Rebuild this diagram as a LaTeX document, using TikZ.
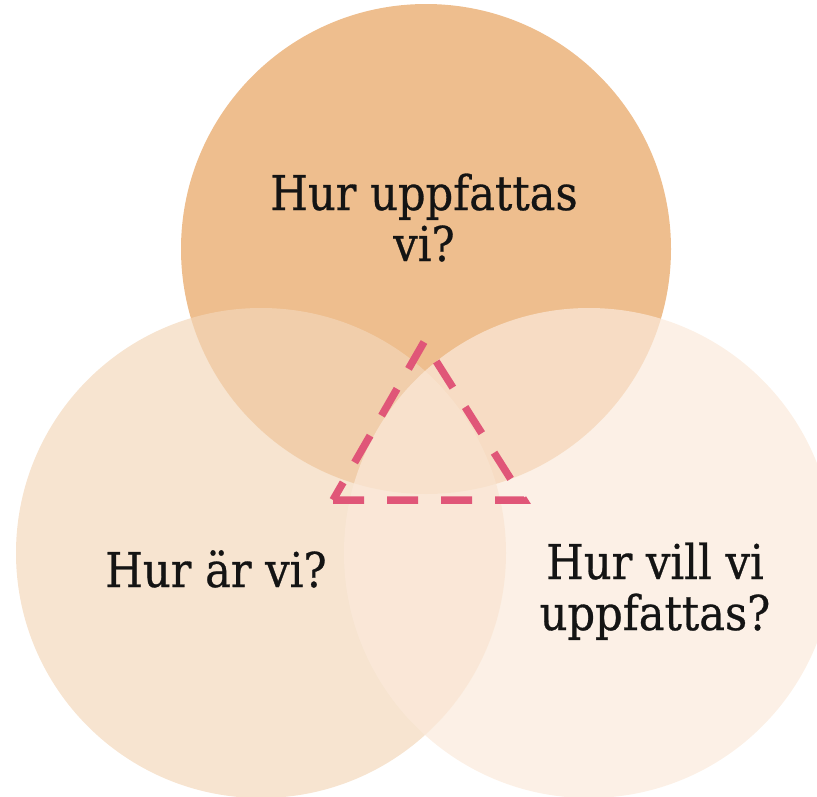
\documentclass[tikz,border=0pt]{standalone}
\usepackage{fontspec}
\newfontfamily\qfont[FakeStretch=0.9,FakeBold=0.6]{DejaVu Serif}
\definecolor{topc}{RGB}{238,190,142}
\definecolor{leftc}{RGB}{243,215,186}
\definecolor{rightc}{RGB}{251,234,219}
\definecolor{dashc}{RGB}{224,86,120}
\definecolor{txtc}{RGB}{20,20,20}
\begin{document}
\begin{tikzpicture}[x=1pt,y=-1pt,
  ring/.style={circle, minimum size=490pt, inner sep=0pt, draw=none},
  qlabel/.style={font=\qfont\fontsize{48}{51}\selectfont, text=txtc, align=center, inner sep=0pt, anchor=base},
  tri/.style={draw=dashc, line width=7.5pt, dash pattern=on 31pt off 23pt, line join=miter}]
\useasboundingbox (0,0) rectangle (817,796);
\node[ring, fill=topc] (topcirc) at (426,249) {};
\node[ring, fill=leftc, fill opacity=0.68] (leftcirc) at (261,553) {};
\node[ring, fill=rightc, fill opacity=0.7] (rightcirc) at (589,553) {};
\coordinate (apex) at (424,342);
\coordinate (bl) at (333,500);
\coordinate (br) at (524,500);
\draw[tri] (bl) -- (br) -- (apex) -- cycle;
\node[qlabel] (toptext) at (424,261) {Hur uppfattas\\vi?};
\node[qlabel] (lefttext) at (216,587) {Hur är vi?};
\node[qlabel] (righttext) at (655,630) {Hur vill vi\\uppfattas?};
\end{tikzpicture}
\end{document}
